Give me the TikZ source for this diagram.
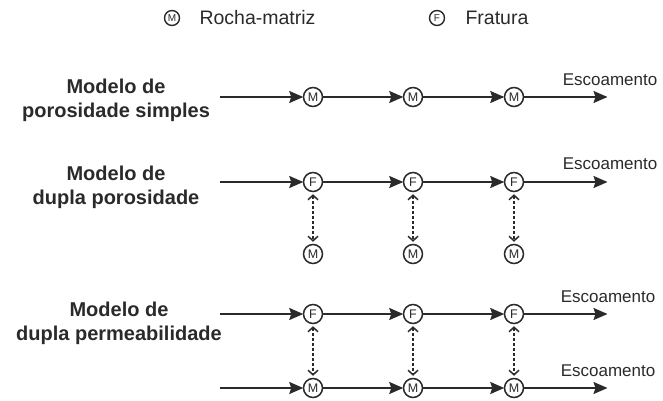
\documentclass[tikz,border=0pt]{standalone}
\usepackage{fontspec}
\setmainfont{Liberation Sans}
\usetikzlibrary{arrows.meta}
\definecolor{ink}{HTML}{2A2A2A}
\tikzset{
  nd/.style={circle,draw=ink,line width=1.5pt,fill=white,minimum size=19pt,inner sep=0pt,
    font=\fontsize{12.5}{12.5}\selectfont,text=ink},
  lg/.style={circle,draw=ink,line width=1.4pt,fill=white,minimum size=15pt,inner sep=0pt,
    font=\fontsize{10}{10}\selectfont,text=ink},
  flow/.style={draw=ink,line width=1.7pt,-{Stealth[length=14pt,width=12pt,inset=2pt]},shorten >=-0.5pt},
  exch/.style={draw=ink,line width=1.5pt,dash pattern=on 3pt off 2pt,
    {Straight Barb[length=4.5pt,width=10pt]}-{Straight Barb[length=4.5pt,width=10pt]},shorten <=2pt,shorten >=2pt},
  lab/.style={font=\fontsize{20}{24}\selectfont\bfseries,text=ink,align=center},
  esc/.style={font=\fontsize{17}{20}\selectfont,text=ink},
  leg/.style={font=\fontsize{19.5}{22}\selectfont,text=ink,anchor=west}
}
\begin{document}
\begin{tikzpicture}[x=1pt,y=-1pt]
\useasboundingbox (0,0) rectangle (663,401);
% legend
\node[lg] (lm) at (172,18) {M};
\node[leg] (lmt) at (196,18) {Rocha-matriz};
\node[lg] (lf) at (437,18) {F};
\node[leg] (lft) at (462,18) {Fratura};
% row 1
\node[lab] (l1) at (116,100) {Modelo de\\porosidade simples};
\coordinate (s1) at (220,97);
\coordinate (e1) at (607,97);
\node[nd] (a1) at (313,97) {M};
\node[nd] (a2) at (413,97) {M};
\node[nd] (a3) at (514,97) {M};
\draw[flow] (s1) -- (a1);
\draw[flow] (a1) -- (a2);
\draw[flow] (a2) -- (a3);
\draw[flow] (a3) -- (e1);
\node[esc] (t1) at (610,80) {Escoamento};
% row 2
\node[lab] (l2) at (116,187) {Modelo de\\dupla porosidade};
\coordinate (s2) at (220,182);
\coordinate (e2) at (607,182);
\node[nd] (b1) at (313,182) {F};
\node[nd] (b2) at (413,182) {F};
\node[nd] (b3) at (514,182) {F};
\node[nd] (c1) at (313,254) {M};
\node[nd] (c2) at (413,254) {M};
\node[nd] (c3) at (514,254) {M};
\draw[flow] (s2) -- (b1);
\draw[flow] (b1) -- (b2);
\draw[flow] (b2) -- (b3);
\draw[flow] (b3) -- (e2);
\draw[exch] (b1) -- (c1);
\draw[exch] (b2) -- (c2);
\draw[exch] (b3) -- (c3);
\node[esc] (t2) at (610,164) {Escoamento};
% row 3
\node[lab] (l3) at (119,323) {Modelo de\\dupla permeabilidade};
\coordinate (s3) at (220,314);
\coordinate (e3) at (607,314);
\coordinate (s4) at (220,388);
\coordinate (e4) at (607,388);
\node[nd] (d1) at (313,314) {F};
\node[nd] (d2) at (413,314) {F};
\node[nd] (d3) at (514,314) {F};
\node[nd] (f1) at (313,388) {M};
\node[nd] (f2) at (413,388) {M};
\node[nd] (f3) at (514,388) {M};
\draw[flow] (s3) -- (d1);
\draw[flow] (d1) -- (d2);
\draw[flow] (d2) -- (d3);
\draw[flow] (d3) -- (e3);
\draw[flow] (s4) -- (f1);
\draw[flow] (f1) -- (f2);
\draw[flow] (f2) -- (f3);
\draw[flow] (f3) -- (e4);
\draw[exch] (d1) -- (f1);
\draw[exch] (d2) -- (f2);
\draw[exch] (d3) -- (f3);
\node[esc] (t3) at (608,297) {Escoamento};
\node[esc] (t4) at (608,371) {Escoamento};
\end{tikzpicture}
\end{document}
